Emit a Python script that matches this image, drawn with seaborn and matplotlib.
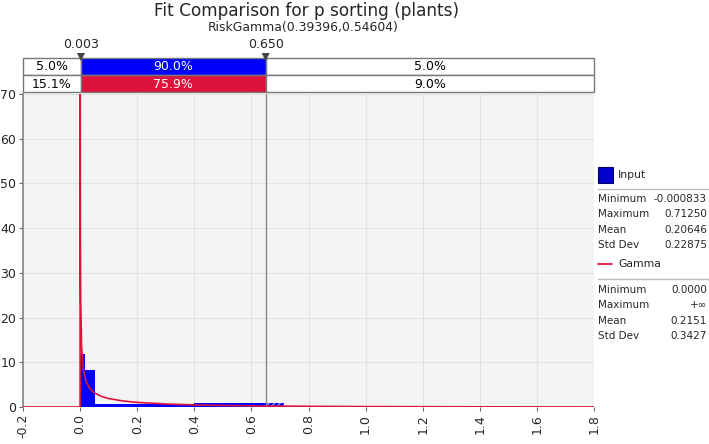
import matplotlib
matplotlib.use("Agg")
import matplotlib.pyplot as plt
import seaborn as sns
import pandas as pd

# histogram of the input (variable bin widths)
bin_edges = [-0.000833, 0.0165, 0.0525, 0.40, 0.65, 0.7125]
bin_heights = [11.8, 8.2, 0.7, 0.85, 0.85]

# fitted gamma density
curve_x = [-0.2, 0.0, 0.0, 0.0003, 0.001, 0.002, 0.005, 0.01, 0.02, 0.035, 0.05,
           0.075, 0.1, 0.15, 0.2, 0.3, 0.4, 0.5, 0.6, 0.8, 1.0, 1.4, 1.8]
curve_y = [0.0, 0.0, 77.0, 77.0, 37.0, 24.2, 13.8, 9.0, 5.8, 4.03, 3.16,
           2.36, 1.89, 1.35, 1.03, 0.675, 0.472, 0.343, 0.256, 0.149, 0.090, 0.035, 0.015]

# delimiters and probability strip
marks = [0.003, 0.650]
mark_labels = ["0.003", "0.650"]
input_pcts = ["5.0%", "90.0%", "5.0%"]
gamma_pcts = ["15.1%", "75.9%", "9.0%"]

input_stats = [("Minimum", "-0.000833"), ("Maximum", "0.71250"),
               ("Mean", "0.20646"), ("Std Dev", "0.22875")]
gamma_stats = [("Minimum", "0.0000"), ("Maximum", "+\u221e"),
               ("Mean", "0.2151"), ("Std Dev", "0.3427")]

x_ticks = [-0.2, 0.0, 0.2, 0.4, 0.6, 0.8, 1.0, 1.2, 1.4, 1.6, 1.8]
y_ticks = [0, 10, 20, 30, 40, 50, 60, 70]

BLUE = "#0000FF"
RED = "#DC143C"
W, H = 709, 444

sns.set_theme(style="whitegrid")
plt.rcParams["font.family"] = ["DejaVu Sans"]


def px(x, y):
    return x / W, 1 - y / H


fig = plt.figure(figsize=(W / 100, H / 100), dpi=100)
x0, x1 = 23, 594
y_top, y_bot = 94, 407
ax = fig.add_axes([x0 / W, 1 - y_bot / H, (x1 - x0) / W, (y_bot - y_top) / H])
ax.set_facecolor("#F4F4F4")

# histogram bars
for i in range(len(bin_heights)):
    left, right = bin_edges[i], bin_edges[i + 1]
    if left >= marks[1]:
        ax.bar(left, bin_heights[i], width=right - left, align="edge",
               color=BLUE, edgecolor="#9999FF", hatch="//////", linewidth=0, zorder=2)
    else:
        ax.bar(left, bin_heights[i], width=right - left, align="edge",
               color=BLUE, linewidth=0, zorder=2)

curve = pd.DataFrame({"x": curve_x, "y": curve_y})
sns.lineplot(data=curve, x="x", y="y", ax=ax, color=RED, lw=1.2,
             sort=False, estimator=None, zorder=4)

ax.axvline(marks[1], color="#888888", lw=1, zorder=3)

ax.set_xlim(-0.2, 1.8)
ax.set_ylim(0, 70)
ax.set_xticks(x_ticks)
ax.set_xticklabels([f"{t:.1f}" for t in x_ticks], rotation=90, fontsize=9)
ax.set_yticks(y_ticks)
ax.set_yticklabels([str(t) for t in y_ticks], fontsize=9)
ax.set_xlabel("")
ax.set_ylabel("")
ax.grid(True, color="#E2E2E2", lw=0.8)
ax.tick_params(axis="both", length=3, width=0.8, color="#666666", pad=2,
               bottom=True, left=True)
for side in ["top", "right"]:
    ax.spines[side].set_visible(False)
ax.spines["left"].set_color("#888888")
ax.spines["bottom"].set_visible(False)

# title
fig.text(*px(306, 11), "Fit Comparison for p sorting (plants)", ha="center",
         va="center", fontsize=12.2)
fig.text(*px(303, 28), "RiskGamma(0.39396,0.54604)", ha="center", va="center",
         fontsize=8.9)

# probability strip above the plot
def data_to_px(v):
    return x0 + (v + 0.2) / 2.0 * (x1 - x0)


edges_px = [x0, data_to_px(marks[0]), data_to_px(marks[1]), x1]
rows = [(58, 75, input_pcts, BLUE), (75, 92, gamma_pcts, RED)]
for top, bot, labels, col in rows:
    for j in range(3):
        l, r = edges_px[j], edges_px[j + 1]
        fc = col if j == 1 else "white"
        rect = plt.Rectangle(px(l, bot), (r - l) / W, (bot - top) / H,
                             transform=fig.transFigure, facecolor=fc,
                             edgecolor="#777777", lw=1)
        fig.patches.append(rect)
        fig.text(*px((l + r) / 2, (top + bot) / 2 + 0.5), labels[j],
                 ha="center", va="center", fontsize=9,
                 color="white" if j == 1 else "black")

for v, lab in zip(marks, mark_labels):
    xp = data_to_px(v)
    fig.text(*px(xp, 45), lab, ha="center", va="center", fontsize=9)
    tri = plt.Polygon([px(xp - 4, 53), px(xp + 4, 53), px(xp, 61)],
                      closed=True, transform=fig.transFigure,
                      facecolor="#444444", edgecolor="none")
    fig.patches.append(tri)

# legend panel on the right
fig.patches.append(plt.Rectangle(px(598, 183), 15 / W, 16 / H,
                                 transform=fig.transFigure, facecolor="#0000CC",
                                 edgecolor="#000066", lw=0.8))
fig.text(*px(618, 175), "Input", ha="left", va="center", fontsize=7.8)
fig.lines.append(plt.Line2D([598 / W, 1.0], [1 - 189 / H] * 2,
                            transform=fig.transFigure, color="#BBBBBB", lw=1))
for k, (name, val) in enumerate(input_stats):
    yy = 199 + k * 15.3
    fig.text(*px(598, yy), name, ha="left", va="center", fontsize=7.5)
    fig.text(*px(707, yy), val, ha="right", va="center", fontsize=7.5)

fig.lines.append(plt.Line2D([598 / W, 612 / W], [1 - 264 / H] * 2,
                            transform=fig.transFigure, color=RED, lw=1.3))
fig.text(*px(618, 264), "Gamma", ha="left", va="center", fontsize=7.8)
fig.lines.append(plt.Line2D([598 / W, 1.0], [1 - 279 / H] * 2,
                            transform=fig.transFigure, color="#BBBBBB", lw=1))
for k, (name, val) in enumerate(gamma_stats):
    yy = 290 + k * 15.3
    fig.text(*px(598, yy), name, ha="left", va="center", fontsize=7.5)
    fig.text(*px(707, yy), val, ha="right", va="center", fontsize=7.5)

fig.savefig("out.png", dpi=100, facecolor="white")
